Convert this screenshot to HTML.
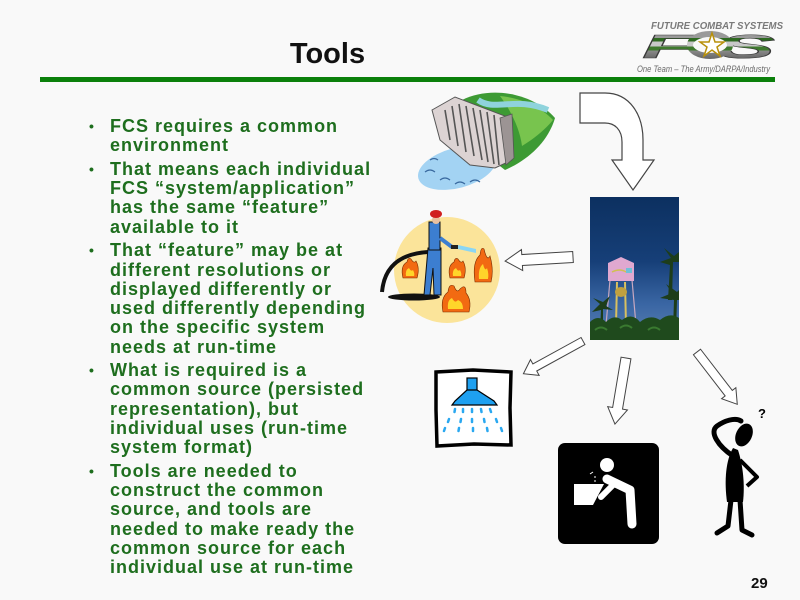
<!DOCTYPE html>
<html>
<head>
<meta charset="utf-8">
<style>
  html,body{margin:0;padding:0;}
  body{width:800px;height:600px;background:#f9f9f9;position:relative;overflow:hidden;font-family:"Liberation Sans",Arial,sans-serif;}
  .title{position:absolute;left:0;width:655px;top:36px;text-align:center;font-size:29px;font-weight:bold;color:#111;line-height:36px;}
  .rule{position:absolute;left:40px;top:77px;width:735px;height:5px;background:#0b800b;}
  .bul{position:absolute;left:110px;top:117px;font-size:18px;font-weight:bold;color:#1e6e1e;letter-spacing:1px;line-height:19.25px;white-space:nowrap;}
  .bul p{margin:0 0 4.4px 0;position:relative;}
  .bul p:before{content:"\2022";position:absolute;left:-21px;top:0;font-size:14px;letter-spacing:0;}
  .pg{position:absolute;left:751px;top:575px;font-size:15px;font-weight:bold;color:#111;}
  svg{position:absolute;left:0;top:0;}
</style>
</head>
<body>
<div class="title">Tools</div>
<div class="rule"></div>
<div class="bul">
<p>FCS requires a common<br>environment</p>
<p>That means each individual<br>FCS “system/application”<br>has the same “feature”<br>available to it</p>
<p>That “feature” may be at<br>different resolutions or<br>displayed differently or<br>used differently depending<br>on the specific system<br>needs at run-time</p>
<p>What is required is a<br>common source (persisted<br>representation), but<br>individual uses (run-time<br>system format)</p>
<p>Tools are needed to<br>construct the common<br>source, and tools are<br>needed to make ready the<br>common source for each<br>individual use at run-time</p>
</div>
<div class="pg">29</div>

<svg width="800" height="600" viewBox="0 0 800 600">
  <defs>
    <linearGradient id="stripe" x1="0" y1="33" x2="0" y2="58" gradientUnits="userSpaceOnUse">
      <stop offset="0" stop-color="#9a9a9a"/><stop offset="0.2" stop-color="#9a9a9a"/>
      <stop offset="0.2" stop-color="#2f6a22"/><stop offset="0.35" stop-color="#2f6a22"/>
      <stop offset="0.35" stop-color="#c8c8c8"/><stop offset="0.55" stop-color="#c8c8c8"/>
      <stop offset="0.55" stop-color="#3f7a2e"/><stop offset="0.7" stop-color="#3f7a2e"/>
      <stop offset="0.7" stop-color="#8a8a8a"/><stop offset="1" stop-color="#6a6a6a"/>
    </linearGradient>
    <linearGradient id="sky" x1="0" y1="0" x2="0" y2="1">
      <stop offset="0" stop-color="#0c3060"/><stop offset="0.45" stop-color="#163f78"/>
      <stop offset="0.75" stop-color="#3a66a4"/><stop offset="1" stop-color="#5a80b0"/>
    </linearGradient>
  </defs>

  <!-- Logo -->
  <text x="651" y="29" font-family="Liberation Sans, sans-serif" font-size="10.5" font-weight="bold" font-style="italic" fill="#7a7a7a" textLength="132" lengthAdjust="spacingAndGlyphs">FUTURE COMBAT SYSTEMS</text>
  <text x="642" y="58" font-family="Liberation Sans, sans-serif" font-size="33" font-weight="bold" font-style="italic" fill="url(#stripe)" stroke="#3a3a3a" stroke-width="0.6" textLength="133" lengthAdjust="spacingAndGlyphs">F  S</text>
  <ellipse cx="710" cy="45" rx="20" ry="11" fill="none" stroke="url(#stripe)" stroke-width="6"/>
  <polygon points="712,33 715,42 724,42 717,47 720,56 712,50 704,56 707,47 700,42 709,42" fill="#fff" stroke="#b8900a" stroke-width="1.5"/>
  <text x="637" y="72" font-family="Liberation Sans, sans-serif" font-size="9.5" font-style="italic" fill="#6a6a6a" textLength="133" lengthAdjust="spacingAndGlyphs">One Team – The Army/DARPA/Industry</text>

  <!-- Dam -->
  <ellipse cx="457" cy="168" rx="40" ry="20" transform="rotate(-15 457 168)" fill="#a3d3f3"/>
  <path d="M425,172 q5,-4 10,0 M440,180 q5,-4 10,0 M455,184 q5,-4 10,0 M470,182 q5,-4 10,0 M430,160 q4,-3 8,0" stroke="#3a6aa0" stroke-width="1.2" fill="none"/>
  <path d="M462,100 C490,86 532,92 555,118 C548,142 528,160 505,170 L482,152 Z" fill="#3d9a34"/>
  <path d="M500,96 C520,98 540,106 553,120 C545,130 532,140 522,146 C520,130 512,112 500,96 Z" fill="#78c44e"/>
  <path d="M478,100 C495,112 515,96 548,110" stroke="#8fd3dc" stroke-width="6" fill="none"/>
  <polygon points="432,110 455,97 510,118 512,160 495,168 470,165 440,140" fill="#dcd3d3" stroke="#555" stroke-width="1"/>
  <polygon points="500,118 512,114 514,158 506,165" fill="#9c9494" stroke="#555" stroke-width="0.8"/>
  <path d="M445,110 L450,140 M452,106 L458,146 M459,104 L466,152 M466,106 L474,156 M473,108 L482,160 M480,110 L488,162 M487,112 L494,164 M494,115 L499,165" stroke="#555" stroke-width="1.6"/>

  <!-- Curved arrow -->
  <path d="M580,93 L605,93 C630,93 643,115 643,140 L643,160 L654,160 L633,190 L612,160 L622,160 L622,142 C622,130 615,123 605,123 L580,123 Z" fill="#fff" stroke="#444" stroke-width="1.2"/>

  <!-- Water tower photo -->
  <rect x="590" y="197" width="89" height="143" fill="url(#sky)"/>
  <g>
    <line x1="610" y1="280" x2="606" y2="325" stroke="#c8a8c0" stroke-width="1.2"/>
    <line x1="632" y1="280" x2="636" y2="325" stroke="#c8a8c0" stroke-width="1.2"/>
    <line x1="617" y1="282" x2="616" y2="325" stroke="#d8c060" stroke-width="2"/>
    <line x1="625" y1="282" x2="626" y2="325" stroke="#d8c060" stroke-width="2"/>
    <ellipse cx="621" cy="292" rx="6" ry="5" fill="#c0a040"/>
    <path d="M608,263 L621,257 L634,263 L634,281 L608,281 Z" fill="#e0a8d0"/>
    <path d="M612,272 q8,-4 14,0" stroke="#d0c050" stroke-width="1.5" fill="none"/>
    <rect x="626" y="268" width="6" height="5" fill="#70c0d8"/>
  </g>
  <g fill="#1d3d1a">
    <path d="M668,300 L670,265 L660,262 L671,258 L664,248 L674,256 L679,252 L679,262 L673,262 L672,300 Z"/>
    <path d="M673,330 L674,300 L660,298 L672,293 L666,284 L677,292 L679,290 L679,300 L677,300 L676,330 Z"/>
    <path d="M600,330 L601,310 L592,312 L600,304 L593,298 L603,302 L610,296 L606,306 L613,310 L603,309 L603,330 Z"/>
  </g>
  <path d="M590,340 L590,322 Q598,314 606,322 Q614,314 622,320 Q632,312 640,322 Q650,314 660,320 Q670,312 679,318 L679,340 Z" fill="#1f4a1d"/>
  <path d="M595,330 q6,-5 12,0 M620,328 q6,-5 12,0 M648,330 q6,-5 12,0" stroke="#3a7a30" stroke-width="2" fill="none"/>

  <!-- Firefighter -->
  <circle cx="447" cy="270" r="53" fill="#fbe49a"/>
  <path d="M382,292 C384,270 396,254 428,252" stroke="#111" stroke-width="4" fill="none"/>
  <ellipse cx="414" cy="297" rx="26" ry="3.5" fill="#111"/>
  <polygon points="428,248 441,248 441,295 434,295 433,268 430,295 424,295" fill="#3c7ed0" stroke="#111" stroke-width="1"/>
  <rect x="429" y="222" width="11" height="28" fill="#3c7ed0" stroke="#111" stroke-width="1"/>
  <circle cx="436" cy="220" r="4" fill="#e8c0a0"/>
  <ellipse cx="436" cy="214" rx="6" ry="4" fill="#d02020"/>
  <line x1="440" y1="238" x2="452" y2="247" stroke="#3c7ed0" stroke-width="4"/>
  <rect x="451" y="245" width="7" height="4" fill="#222"/>
  <polygon points="458,245 476,249 476,253 458,249" fill="#8ad6f4"/>
  <g fill="#f26a12" stroke="#7a2a00" stroke-width="0.6">
    <path d="M403,278 Q400,266 407,262 Q408,257 411,259 Q414,264 416,261 Q420,268 417,278 Z"/>
    <path d="M450,278 Q447,266 454,262 Q455,257 458,259 Q461,264 463,261 Q467,268 464,278 Z"/>
    <path d="M475,282 Q472,262 480,255 Q481,246 484,249 Q487,262 490,256 Q494,270 491,282 Z"/>
    <path d="M443,312 Q440,298 448,292 Q449,283 454,286 Q457,294 460,289 Q466,283 466,293 Q472,300 469,312 Z"/>
  </g>
  <g fill="#ffd52a">
    <path d="M406,276 Q405,270 409,268 Q411,272 413,270 Q415,274 414,276 Z"/>
    <path d="M453,276 Q452,270 456,268 Q458,272 460,270 Q462,274 461,276 Z"/>
    <path d="M479,279 Q478,268 483,264 Q485,272 487,268 Q489,274 488,279 Z"/>
    <path d="M448,309 Q447,300 452,298 Q455,304 458,300 Q463,302 463,309 Z"/>
  </g>

  <!-- Arrows -->
  <polygon transform="translate(573,257) rotate(176.6)" points="0,-5.5 51,-5.5 51,-10.5 68,0 51,10.5 51,5.5 0,5.5" fill="#fff" stroke="#444" stroke-width="1"/>
  <polygon transform="translate(583,341) rotate(151.2)" points="0,-4 55,-4 55,-9 68,0 55,9 55,4 0,4" fill="#fff" stroke="#444" stroke-width="1"/>
  <polygon transform="translate(626,358) rotate(99.5)" points="0,-5 51,-5 51,-10 67,0 51,10 51,5 0,5" fill="#fff" stroke="#444" stroke-width="1"/>
  <polygon transform="translate(697,352) rotate(52.4)" points="0,-4.5 52,-4.5 52,-9 66,0 52,9 52,4.5 0,4.5" fill="#fff" stroke="#444" stroke-width="1"/>

  <!-- Shower -->
  <path d="M436,372 L473,370 L511,372 L510,408 L511,445 L474,444 L437,446 L436,410 Z" fill="#fff" stroke="#000" stroke-width="3.5"/>
  <rect x="467" y="378" width="10" height="13" fill="#1ea0f0" stroke="#000" stroke-width="1.2"/>
  <polygon points="467,390 477,390 494,401 497,405 452,405 455,401" fill="#1ea0f0" stroke="#000" stroke-width="1.2"/>
  <g stroke="#2aa8f0" stroke-width="2.5" stroke-linecap="round">
    <path d="M455,409 l-0.5,3 M463,409 l0,3 M472,409 l0,3 M481,409 l0.5,3 M490,409 l1,3"/>
    <path d="M449,419 l-1,3 M461,419 l-0.5,3 M472,419 l0,3 M484,419 l0.5,3 M496,419 l1,3"/>
    <path d="M445,428 l-1,3 M459,428 l-0.5,3 M473,428 l0,3 M487,428 l0.5,3 M501,428 l1,3"/>
  </g>

  <!-- Drinking fountain -->
  <rect x="558" y="443" width="101" height="101" rx="7" fill="#000"/>
  <circle cx="607" cy="465" r="7" fill="#fff"/>
  <path d="M607,479 L630,490 L632,524" stroke="#fff" stroke-width="9" stroke-linecap="round" stroke-linejoin="round" fill="none"/>
  <path d="M613,485 L601,497" stroke="#fff" stroke-width="6" stroke-linecap="round"/>
  <polygon points="574,484 604,484 593,505 574,505" fill="#fff"/>
  <path d="M590,474 l3,-2 M595,476 v2 M595,480 v2" stroke="#fff" stroke-width="1"/>

  <!-- Thinker -->
  <text x="758" y="418" font-family="Liberation Sans, sans-serif" font-size="13" font-weight="bold" fill="#000">?</text>
  <ellipse cx="744" cy="435" rx="8" ry="12" transform="rotate(25 744 435)" fill="#000"/>
  <path d="M733,456 C718,446 709,432 717,426 C724,421 735,417 741,421" stroke="#000" stroke-width="5" fill="none" stroke-linecap="round"/>
  <path d="M733,448 C726,460 724,480 727,502 L743,502 C745,485 743,465 738,450 Z" fill="#000"/>
  <path d="M740,460 L757,477 L747,486" stroke="#000" stroke-width="4" fill="none" stroke-linejoin="round"/>
  <path d="M731,500 L728,526 L717,533" stroke="#000" stroke-width="5" fill="none" stroke-linecap="round" stroke-linejoin="round"/>
  <path d="M740,500 L742,530 L752,535" stroke="#000" stroke-width="5" fill="none" stroke-linecap="round" stroke-linejoin="round"/>
</svg>
</body>
</html>
